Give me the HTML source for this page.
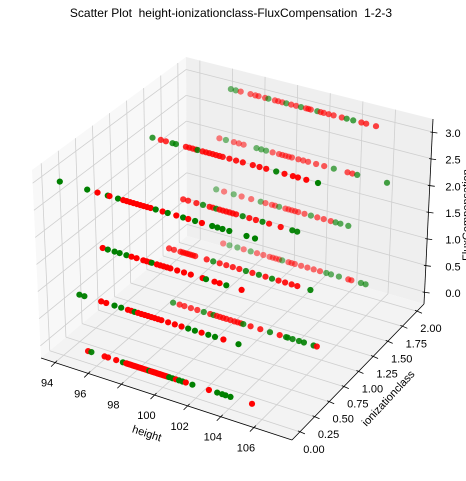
<!DOCTYPE html>
<html><head><meta charset="utf-8">
<style>
html,body{margin:0;padding:0;background:#fff;}
body{width:466px;height:476px;overflow:hidden;position:relative;font-family:"Liberation Sans",sans-serif;}
svg text{font-family:"Liberation Sans",sans-serif;}
</style></head>
<body>
<svg id="chart" width="466" height="476" viewBox="0 0 466 476" xmlns="http://www.w3.org/2000/svg">
<text x="231" y="17" font-size="12" text-anchor="middle" fill="#000" style="white-space:pre">Scatter Plot  height-ionizationclass-FluxCompensation  1-2-3</text>
<g id="panes"></g>
<g id="grid"></g>
<g id="axes"></g>
<g id="pts"></g>
<text x="147" y="437" font-size="11" text-anchor="middle" transform="rotate(18 147 433)">height</text>
<text x="388" y="402" font-size="11" text-anchor="middle" transform="rotate(-47 388 398)">ionizationclass</text>
<text x="0" y="0" font-size="11" text-anchor="middle" transform="translate(470 215) rotate(-90)">FluxCompensation</text>
</svg>
<script>
// ---- data: one array group per (ionizationclass, FluxCompensation) row ----
const heightTicks = [94, 96, 98, 100, 102, 104, 106];
const ionTicks = [0, 0.25, 0.5, 0.75, 1.0, 1.25, 1.5, 1.75, 2.0];
const ionTickLabels = ["0.00","0.25","0.50","0.75","1.00","1.25","1.50","1.75","2.00"];
const fluxTicks = [0, 0.5, 1.0, 1.5, 2.0, 2.5, 3.0];
const fluxTickLabels = ["0.0","0.5","1.0","1.5","2.0","2.5","3.0"];

const rowIon = [0, 0, 0, 0, 1, 1, 1, 1, 2, 2, 2, 2];
const rowFlux = [0, 1, 2, 3, 0, 1, 2, 3, 0, 1, 2, 3];
const rowHeights = [
 [95.5,95.7,96.5,96.7,97.2,97.6,97.8,98.0,98.2,98.4,98.6,98.8,99.0,99.2,99.4,99.6,99.8,100.0,100.2,100.4,100.6,100.8,101.0,101.2,101.4,101.8,102.8,103.3,103.6,103.8,104.1,105.4,97.9,98.1,98.3,98.5,98.7,98.9,99.1,99.3,99.5,99.7,99.9,100.1,100.3],
 [95.1,95.4,96.4,96.7,97.2,97.6,98.0,98.4,98.8,99.2,99.6,100.0,100.4,100.8,101.2,101.6,102.0,102.4,102.8,103.2,103.7,104.6,98.2,98.6,99.0,99.4,99.8],
 [96.6,96.9,97.3,97.6,98.0,98.3,98.6,99.2,99.5,99.8,100.2,100.6,101.0,101.4,101.8,102.5,102.7,103.2,103.5,103.9,104.8,99.0,99.4,100.0,100.4],
 [94.2,95.8,96.4,97.0,97.1,97.6,97.9,98.3,98.7,99.1,99.5,99.8,100.2,100.5,101.0,101.4,101.7,102.1,102.5,103.1,103.4,103.7,104.1,105.1,105.6,98.1,98.5,98.9,99.3],
 [96.8,97.2,97.5,97.9,98.3,98.7,99.1,99.5,99.9,100.35,100.8,101.15,101.6,102.2,102.8,103.4,103.8,104.2,104.6,104.9,105.5,105.7,103.9,99.3,99.7,100.1,100.6,101.0],
 [96.6,96.9,97.3,97.6,97.9,98.2,98.9,99.3,99.7,100.1,100.5,100.9,101.3,101.7,102.1,102.5,102.9,103.3,103.7,104.1,104.45,105.25,97.45,97.75,98.05],
 [97.5,97.8,98.3,98.7,99.1,99.5,99.9,100.3,100.7,101.1,101.5,101.9,102.3,102.7,103.4,104.1,104.4,99.3,99.7,100.1,100.5],
 [95.7,96.2,96.5,96.9,97.1,97.7,98.1,98.4,98.7,99.1,99.5,99.9,100.3,100.7,101.1,101.7,102.1,102.5,103.1,103.6,104.1,104.4,104.9,105.6,97.9,98.3,98.9,99.3,99.7],
 [95.95,96.35,96.85,97.25,97.7,98.1,98.5,98.9,99.3,99.7,100.1,100.5,100.9,101.3,101.7,102.1,102.5,102.8,103.3,103.9,104.1,104.7,105.0,99.1,99.5,100.3],
 [95.5,96.0,96.6,97.1,97.7,98.3,98.6,99.0,99.45,99.85,100.25,100.65,101.05,101.45,101.85,102.25,102.7,103.0,103.3,103.8,99.2,100.05,100.45],
 [95.7,96.1,96.6,96.9,97.2,98.0,98.3,98.6,99.0,99.4,99.8,100.2,100.6,101.2,101.7,102.2,102.8,103.65,103.95,104.25,106.1,99.6,100.0,100.9],
 [96.4,96.7,97.0,97.6,97.9,98.1,98.5,98.7,99.1,99.3,99.8,100.1,100.4,100.7,101.0,101.3,101.7,102.1,102.4,102.7,103.2,103.5,103.9,104.4,104.7,105.3,99.55,101.15,101.9]
];
const rowClasses = [
 "rgrrrgrrrrrrrgrrrrrggrggrgrggggrrrrrrrrrrrrrr",
 "ggrrggrgrrrrrrrggrggrgrrrrr",
 "rggggrrrgrrrrrrrgrrgrrrr",
 "ggrgrgrrrrrgrgrgrgrggggggrrrrr",
 "grrrrgrrrrrgrrgrgggggrggrrrr",
 "rrrrrrrgrrrrgrgrgrrrrgrrr",
 "rrrgrgrrrgrrgrrggrrrr",
 "grrggrrgrrrrrrrrrrgrrrrgrrrrr",
 "rggrgrrrrgrrrrrrgggrrggrrr",
 "grgrrgrrgrrrrgrrrgggrrr",
 "rgrrrgggrrrrrrrrgrrggrrr",
 "ggrrrrrgrrgrrgrrgrrrrggrrrrrr"
];

// ---- axis ranges & projection (trilinear between box corners) ----
const H0 = 93.15, H1 = 108.3, I0 = -0.135, I1 = 2.12, F0 = -0.225, F1 = 3.243;
const C = {
 "000":[41,358],"100":[292,440],"010":[187,236],"110":[424,304],
 "001":[32,170],"101":[293,246],"011":[186,57],"111":[433,119]
};
function lerp(a,b,t){return [a[0]+(b[0]-a[0])*t,a[1]+(b[1]-a[1])*t];}
function projN(u,v,w){
 const p00=lerp(C["000"],C["100"],u), p10=lerp(C["010"],C["110"],u);
 const p01=lerp(C["001"],C["101"],u), p11=lerp(C["011"],C["111"],u);
 return lerp(lerp(p00,p10,v), lerp(p01,p11,v), w);
}
function xs(h){return (h-H0)/(H1-H0);}
function ys(i){return (i-I0)/(I1-I0);}
function zs(f){return (f-F0)/(F1-F0);}
function proj(h,i,f){return projN(xs(h),ys(i),zs(f));}

const NS="http://www.w3.org/2000/svg";
function mk(tag, parent){const e=document.createElementNS(NS,tag);parent.appendChild(e);return e;}
const fmt=p=>p[0].toFixed(1)+","+p[1].toFixed(1);

// panes
const panes=document.getElementById("panes");
const paneDefs=[
 [["000","010","011","001"],"#f8f8f8","left-pane"],
 [["010","110","111","011"],"#efefef","back-pane"],
 [["000","100","110","010"],"#f3f3f3","floor-pane"]
];
paneDefs.forEach(d=>{
 const pg=mk("polygon",panes);
 pg.setAttribute("points",d[0].map(k=>fmt(C[k])).join(" "));
 pg.setAttribute("fill",d[1]);
 
 
});

// gridlines
const grid=document.getElementById("grid");
function gl(a,b,name){
 const l=mk("line",grid);
 l.setAttribute("x1",a[0]);l.setAttribute("y1",a[1]);l.setAttribute("x2",b[0]);l.setAttribute("y2",b[1]);
 l.setAttribute("stroke","#cfcfcf");l.setAttribute("stroke-width","0.8");
 
 
}
heightTicks.forEach(h=>{
 const u=xs(h);
 gl(projN(u,0,0),projN(u,1,0),"floor-gridline-height");
 gl(projN(u,1,0),projN(u,1,1),"back-gridline-height");
});
ionTicks.forEach(i=>{
 const v=ys(i);
 gl(projN(0,v,0),projN(1,v,0),"floor-gridline-ion");
 gl(projN(0,v,0),projN(0,v,1),"left-gridline-ion");
});
fluxTicks.forEach(f=>{
 const w=zs(f);
 gl(projN(0,0,w),projN(0,1,w),"left-gridline-flux");
 gl(projN(0,1,w),projN(1,1,w),"back-gridline-flux");
});

// axis lines, ticks, labels
const axes=document.getElementById("axes");
function al(a,b,name){
 const l=mk("line",axes);
 l.setAttribute("x1",a[0]);l.setAttribute("y1",a[1]);l.setAttribute("x2",b[0]);l.setAttribute("y2",b[1]);
 l.setAttribute("stroke","#000");l.setAttribute("stroke-width","0.8");
 
 
}
function tl(x,y,s,name,anchor){
 const t=mk("text",axes);
 t.setAttribute("x",x);t.setAttribute("y",y);t.setAttribute("font-size","11");
 t.setAttribute("text-anchor",anchor||"middle");t.setAttribute("fill","#000");
 t.textContent=s;
 
 
}
al(C["000"],C["100"],"x-axis-line");
al(C["100"],C["110"],"y-axis-line");
al(C["110"],C["111"],"z-axis-line");
heightTicks.forEach(h=>{
 const p=projN(xs(h),0,0);
 al([p[0]+2,p[1]-2],[p[0]-4,p[1]+4],"x-tick");
 tl(p[0]-8,p[1]+24,String(h),"x-tick-label");
});
ionTicks.forEach((i,k)=>{
 const p=projN(1,ys(i),0);
 al([p[0]-2,p[1]-1],[p[0]+5,p[1]+2],"y-tick");
 tl(p[0]+14,p[1]+21,ionTickLabels[k],"y-tick-label");
});
fluxTicks.forEach((f,k)=>{
 const p=projN(1,1,zs(f));
 al([p[0]-2,p[1]],[p[0]+5,p[1]+1],"z-tick");
 tl(453,p[1]+5,fluxTickLabels[k],"z-tick-label");
});

// points with depth shading
const pts=[];
rowHeights.forEach((arr,r)=>{
 arr.forEach((h,k)=>{
  const u=xs(h),v=ys(rowIon[r]),w=zs(rowFlux[r]);
  const near=0.5*u+0.866*(1-v)+0.15*w;
  pts.push({h:h,i:rowIon[r],f:rowFlux[r],c:rowClasses[r][k]||"r",near:near});
 });
});
let nmin=Infinity,nmax=-Infinity;
pts.forEach(p=>{nmin=Math.min(nmin,p.near);nmax=Math.max(nmax,p.near);});
pts.sort((a,b)=>a.near-b.near);
const g=document.getElementById("pts");
pts.forEach(p=>{
 const s=proj(p.h,p.i,p.f);
 const c=mk("circle",g);
 c.setAttribute("cx",s[0].toFixed(1));c.setAttribute("cy",s[1].toFixed(1));c.setAttribute("r","3.1");
 c.setAttribute("fill",p.c==="g"?"#008000":"#ff0000");
 const a=Math.min(1,0.45+0.8*(p.near-nmin)/(nmax-nmin));
 c.setAttribute("fill-opacity",a.toFixed(2));
 
 
});
</script>
</body></html>
